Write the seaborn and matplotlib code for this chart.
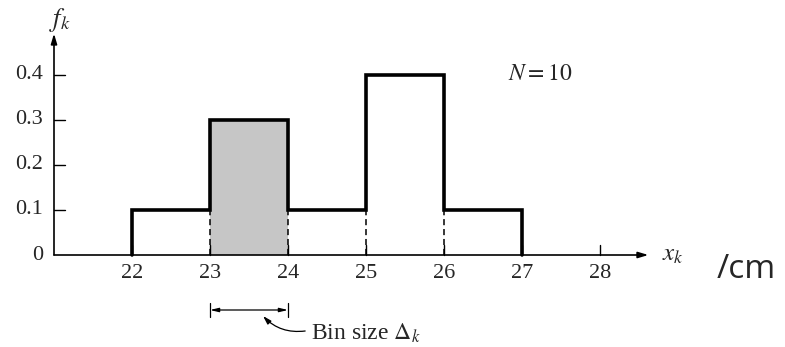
import numpy as np
import matplotlib
matplotlib.use("Agg")
import matplotlib.pyplot as plt
import seaborn as sns

# ---- data ----
bin_edges = [22, 23, 24, 25, 26, 27]
freqs = [0.1, 0.3, 0.1, 0.4, 0.1]
x_ticks = [22, 23, 24, 25, 26, 27, 28]
y_ticks = [0.1, 0.2, 0.3, 0.4]
y_tick_labels = ["0.1", "0.2", "0.3", "0.4"]
shaded_bin = 1  # index of the highlighted bin (23-24)
n_label = "$N = 10$"

sns.set_style("white")
plt.rcParams["font.family"] = ["Liberation Serif", "DejaVu Serif"]
plt.rcParams["mathtext.fontset"] = "stix"

fig = plt.figure(figsize=(7.85, 3.47), dpi=100)
ax = fig.add_axes([0, 0, 1, 1])
# pixel mapping: x=21 at px 54, 78 px/unit ; y=0 at px 255, 450 px/unit
ax.set_xlim(21 - 54 / 78, 21 + (785 - 54) / 78)
ax.set_ylim(-(347 - 255) / 450, 255 / 450)
ax.axis("off")

# shaded bin through seaborn
centers = [(a + b) / 2 for a, b in zip(bin_edges[:-1], bin_edges[1:])]
sns.histplot(x=[centers[shaded_bin]], weights=[freqs[shaded_bin]],
             bins=[bin_edges[shaded_bin], bin_edges[shaded_bin + 1]],
             stat="count", element="bars", fill=True, color="#c6c6c6",
             alpha=1, edgecolor="none", linewidth=0, ax=ax, zorder=1)

# dashed internal edges up to the lower neighbour height
for i in range(1, len(bin_edges) - 1):
    low = min(freqs[i - 1], freqs[i])
    ax.plot([bin_edges[i], bin_edges[i]], [0, low], color="black",
            lw=1.1, ls=(0, (4, 2.5)), zorder=2)

# step outline
sx, sy = [bin_edges[0]], [0]
for i, f in enumerate(freqs):
    sx += [bin_edges[i], bin_edges[i + 1]]
    sy += [f, f]
sx.append(bin_edges[-1]); sy.append(0)
ax.plot(sx, sy, color="black", lw=2.6, solid_joinstyle="miter", zorder=3)

# axes with arrows
ax.annotate("", xy=(28.62, 0), xytext=(21, 0),
            arrowprops=dict(arrowstyle="-|>,head_length=0.6,head_width=0.18",
                            color="black", lw=1.2, shrinkA=0, shrinkB=0), zorder=4)
ax.annotate("", xy=(21, 0.492), xytext=(21, 0),
            arrowprops=dict(arrowstyle="-|>,head_length=0.6,head_width=0.18",
                            color="black", lw=1.2, shrinkA=0, shrinkB=0), zorder=4)

# ticks
for t in x_ticks:
    ax.plot([t, t], [0, 0.022], color="black", lw=1.0, zorder=2)
    ax.text(t, -0.04, str(t), ha="center", va="center", fontsize=16)
for t, lab in zip(y_ticks, y_tick_labels):
    ax.plot([21, 21.14], [t, t], color="black", lw=1.0)
    ax.text(20.86, t, lab, ha="right", va="center", fontsize=16)
ax.text(20.86, 0, "0", ha="right", va="center", fontsize=16)

ax.text(21.08, 0.523, "$f_k$", ha="center", va="center", fontsize=19)
ax.text(28.8, 0.0, "$x_k$", ha="left", va="center", fontsize=18)
ax.text(26.82, 0.4, n_label, ha="left", va="center", fontsize=17)
ax.text(29.5, -0.033, "/cm", ha="left", va="center", fontsize=24,
        family=["Open Sans", "DejaVu Sans"])

# bin size bracket
yb = -(310 - 255) / 450
ax.annotate("", xy=(bin_edges[shaded_bin], yb), xytext=(bin_edges[shaded_bin + 1], yb),
            arrowprops=dict(arrowstyle="<|-|>,head_length=0.5,head_width=0.12",
                            color="black", lw=0.9, shrinkA=0, shrinkB=0))
for e in (bin_edges[shaded_bin], bin_edges[shaded_bin + 1]):
    ax.plot([e, e], [yb - 0.016, yb + 0.016], color="black", lw=0.9)
ax.annotate("", xy=(23.68, -(316 - 255) / 450), xytext=(24.22, -(331 - 255) / 450),
            arrowprops=dict(arrowstyle="-|>,head_length=0.5,head_width=0.15",
                            color="black", lw=0.9, shrinkA=0, shrinkB=0,
                            connectionstyle="arc3,rad=-0.25"))
ax.text(24.29, -(333 - 255) / 450, r"Bin size $\Delta_k$", ha="left",
        va="center", fontsize=17)

fig.savefig("out.png", dpi=100)
